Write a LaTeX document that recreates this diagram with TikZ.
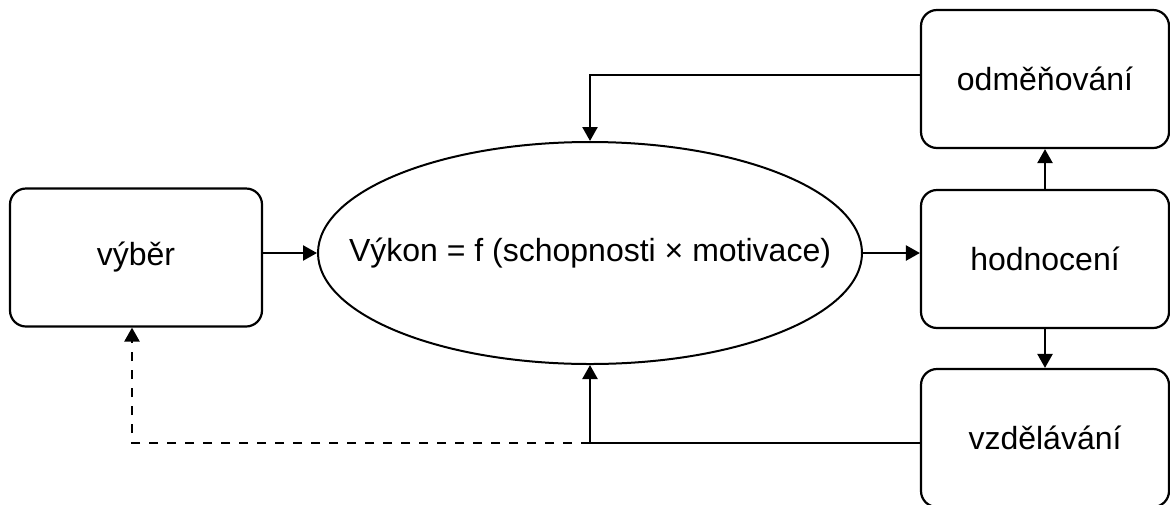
\documentclass[tikz,border=0pt]{standalone}
\usepackage{fontspec}
\setmainfont{Liberation Sans}
\usetikzlibrary{shapes.geometric,arrows.meta}
\begin{document}
\begin{tikzpicture}[x=0.5pt,y=-0.5pt,
  box/.style={draw,line width=1.1pt,rounded corners=8pt,minimum width=124pt,minimum height=69pt,inner sep=0pt,font=\fontsize{16}{19}\selectfont},
  ell/.style={draw,line width=1pt,ellipse,minimum width=272pt,minimum height=111pt,inner sep=0pt},
  conn/.style={line width=1.2pt,-{Triangle[length=7pt,width=7.5pt]}},
  dconn/.style={conn,dash pattern=on 4.5pt off 4.5pt}]
\useasboundingbox (0,0) rectangle (1170,504);
\node[box,minimum width=126pt] (vyber) at (136,257.5) {výběr};
\node[ell,label={[font=\fontsize{16}{19}\selectfont]center:Výkon = f (schopnosti × motivace)}] (vykon) at (590,253) {};
\node[box] (odm) at (1045,79) {odměňování};
\node[box] (hod) at (1045,259) {hodnocení};
\node[box] (vzd) at (1045,438) {vzdělávání};
\draw[conn] (vykon.west -| vyber.east) -- (vykon.west);
\draw[conn] (vykon.east) -- (vykon.east -| hod.west);
\draw[conn] (hod.north) -- (odm.south);
\draw[conn] (hod.south) -- (vzd.south |- vzd.north);
\coordinate (top) at ([yshift=2pt]odm.west -| vykon.north);
\draw[conn] ([yshift=2pt]odm.west) -- (top) -- (vykon.north);
\coordinate (bot) at ([yshift=-2.5pt]vzd.west -| vykon.south);
\draw[conn] ([yshift=-2.5pt]vzd.west) -- (bot) -- (vykon.south);
\coordinate (dl) at ([xshift=-2pt]bot -| vyber.south);
\draw[dconn] (bot) -- (dl) -- ([xshift=-2pt]vyber.south);
\end{tikzpicture}
\end{document}
